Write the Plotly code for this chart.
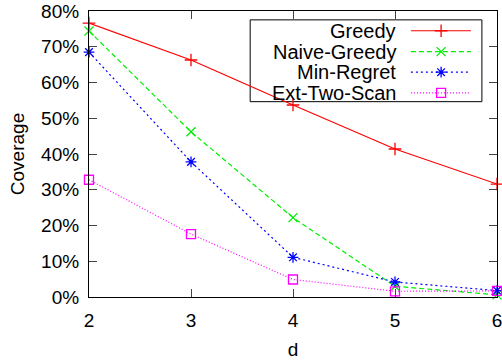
import plotly.graph_objects as go

d = [2, 3, 4, 5, 6]
greedy = [76.6, 66.3, 53.7, 41.4, 31.6]
naive_greedy = [74.4, 46.2, 22.2, 3.0, 0.6]
min_regret = [68.5, 37.8, 11.1, 4.2, 1.8]
ext_two_scan = [32.8, 17.6, 4.9, 1.6, 1.7]
y_ticks = [0, 10, 20, 30, 40, 50, 60, 70, 80]
y_tick_labels = [f"{v}%" for v in y_ticks]

names = ["Greedy", "Naive-Greedy", "Min-Regret", "Ext-Two-Scan"]
series = [greedy, naive_greedy, min_regret, ext_two_scan]
colors = ["#ff0000", "#00ee00", "#0000ff", "#ff00ff"]
dashes = ["solid", "5px,3px", "2px,3px", "1px,2px"]
symbols = ["cross-thin-open", "x-thin-open", "asterisk-open", "square-open"]

FONT = "Liberation Sans, Arial, sans-serif"
FS = 19
FL = 20
fig = go.Figure()
for n, s, c, ds, sym in zip(names, series, colors, dashes, symbols):
    fig.add_trace(go.Scatter(
        x=d, y=s, mode="lines+markers", name=n, showlegend=False,
        line=dict(color=c, width=1.2, dash=ds),
        marker=dict(symbol=sym, size=9, color=c, line=dict(color=c, width=1.3)),
        cliponaxis=False))

# manual gnuplot-style legend on an overlay axis
rows = [0.931, 0.858, 0.786, 0.714]
for n, c, ds, sym, ry in zip(names, colors, dashes, symbols, rows):
    fig.add_trace(go.Scatter(
        x=[0.789, 0.936], y=[ry, ry], mode="lines", xaxis="x2", yaxis="y2",
        line=dict(color=c, width=1.2, dash=ds), showlegend=False, hoverinfo="skip"))
    fig.add_trace(go.Scatter(
        x=[0.863], y=[ry], mode="markers", xaxis="x2", yaxis="y2",
        marker=dict(symbol=sym, size=9, color=c, line=dict(color=c, width=1.3)),
        showlegend=False, hoverinfo="skip"))
    fig.add_annotation(x=0.757, y=ry, xref="x2", yref="y2", text=n, showarrow=False,
                       xanchor="right", yanchor="middle",
                       font=dict(family=FONT, size=FL, color="black"))

fig.add_shape(type="rect", xref="paper", yref="paper", x0=0.395, x1=0.963, y0=0.683, y1=0.969,
              line=dict(color="black", width=1), fillcolor="rgba(0,0,0,0)", layer="below")

fig.update_layout(
    width=502, height=360, margin=dict(l=89, r=5, t=11, b=63),
    paper_bgcolor="white", plot_bgcolor="white",
    font=dict(family=FONT, size=FS, color="black"),
    xaxis=dict(range=[2, 6], tickvals=d, ticks="inside", ticklen=8, mirror="ticks",
               showline=True, linecolor="black", linewidth=1.2, showgrid=False, zeroline=False,
               ticklabelstandoff=6, automargin=False, ticklabeloverflow="allow",
               title=dict(text="d", standoff=15, font=dict(size=FS)), tickfont=dict(size=FS)),
    yaxis=dict(range=[0, 80], tickvals=y_ticks, ticktext=y_tick_labels,
               ticks="inside", ticklen=8, mirror="ticks",
               showline=True, linecolor="black", linewidth=1.2, showgrid=False, zeroline=False,
               ticklabelstandoff=5, automargin=False, ticklabeloverflow="allow",
               title=dict(text="Coverage", standoff=11, font=dict(size=FS)), tickfont=dict(size=FS)),
    xaxis2=dict(overlaying="x", range=[0, 1], visible=False),
    yaxis2=dict(overlaying="y", range=[0, 1], visible=False),
)

fig.write_html("out.html")
